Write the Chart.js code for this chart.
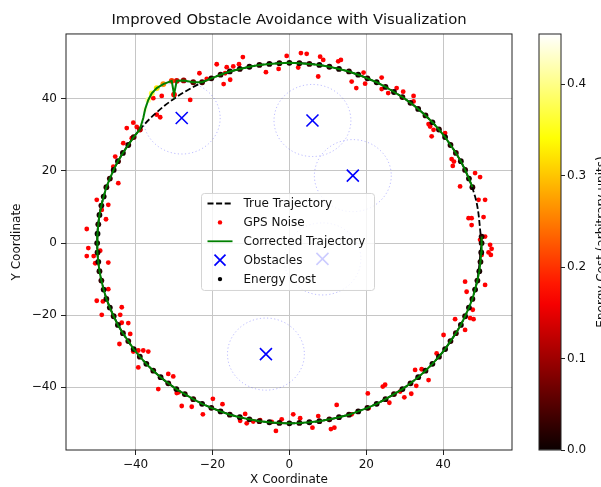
<!DOCTYPE html>
<html>
<head>
<meta charset="utf-8">
<script src="https://cdn.jsdelivr.net/npm/chart.js@4"></script>
<style>
  html, body { margin: 0; padding: 0; background: #fff; }
  #wrap { position: relative; width: 601px; height: 487px; overflow: hidden; background: #fff; }
  #wrap canvas { position: absolute; top: 0; }
</style>
</head>
<body>
<div id="wrap">
  <canvas id="main" width="601" height="487" style="left:0"></canvas>
  <canvas id="cbar" width="71" height="487" style="left:530px"></canvas>
</div>
<script>
// ---- data ----
const xTicks = [-40, -20, 0, 20, 40];
const yTicks = [-40, -20, 0, 20, 40];
const cbarTicks = [0, 0.1, 0.2, 0.3, 0.4];

// true trajectory (circle of radius 50)
const truthX = [50.0, 48.3, 43.3, 35.4, 25.0, 12.9, 0.0, -12.9, -25.0, -35.4, -43.3, -48.3, -50.0,
  -48.3, -43.3, -35.4, -25.0, -12.9, 0.0, 12.9, 25.0, 35.4, 43.3, 48.3, 50.0];
const truthY = [0.0, 12.9, 25.0, 35.4, 43.3, 48.3, 50.0, 48.3, 43.3, 35.4, 25.0, 12.9, 0.0,
  -12.9, -25.0, -35.4, -43.3, -48.3, -50.0, -48.3, -43.3, -35.4, -25.0, -12.9, 0.0];

// noisy GPS fixes
const gpsX = [3.0, 4.5, -0.7, -2.8, 2.3, -6.1, -12.1, -13.1, -18.9, -16.3, -14.6, -16.7, -15.4, -17.1, -23.4, -21.5, -25.8, -33.2, -35.4, -34.5,
  -33.6, -40.6, -42.3, -39.7, -41.0, -38.8, -43.2, -45.3, -44.5, -45.8, -44.5, -50.1, -47.1, -48.8, -47.7, -52.7,
  -52.3, -52.7, -50.9, -50.5, -49.2, -47.1, -47.1, -50.1, -48.5, -48.8, -43.6, -44.0, -43.6, -41.9, -41.4, -44.2, -40.6, -39.3, -38.0, -36.7,
  -39.3, -34.1, -31.5, -30.2, -29.3, -28.8, -28.0, -25.4, -22.5, -19.9, -17.4, -12.8, -11.5, -11.1, -9.4, -7.6, -4.6, -3.5, -2.0, 1.0, 2.8, 6.0,
  7.5, 10.8, 11.7, 12.3, 16.2, 20.4, 20.6, 24.3, 24.9, 26.0, 28.8, 29.9, 31.7, 33.0, 36.2, 32.7, 34.4, 38.3, 40.1, 43.1, 45.7, 47.0, 47.9, 47.7, 46.1, 45.7, 50.9,
  49.6, 50.9, 52.2, 52.6, 51.8, 52.4, 50.0, 46.6, 47.4, 47.4, 50.5, 49.2, 50.9, 44.4, 48.3, 49.6, 42.2, 42.8, 42.5, 37.0, 40.5, 36.2, 36.6, 37.5,
  8.0, 8.8, 7.5, 12.7, 13.4, 16.2, 17.4, 19.3, 19.7, 24.0, 24.0, 27.9, 29.6, 25.7, 32.3, 32.3];
const gpsY = [52.7, 52.5, 51.9, 48.3, 48.7, 47.4, 51.6, 49.6, 49.6, 48.8, 49.0, 47.1, 45.3, 44.1, 47.1, 45.5, 39.7, 40.8, 40.2, 35.6,
  34.9, 33.4, 31.9, 32.2, 29.1, 31.4, 27.7, 24.0, 22.6, 21.2, 16.6, 12.0, 10.6, 9.2, 6.6, 3.9,
  -1.4, -3.6, -3.6, -5.6, -2.1, -5.4, -12.8, -16.0, -16.2, -19.9, -17.8, -19.9, -22.1, -22.2, -25.2, -28.0, -30.1, -29.8, -29.8, -30.1,
  -34.5, -40.5, -36.3, -37.0, -41.6, -41.4, -45.2, -45.4, -47.5, -43.2, -44.7, -49.3, -47.4, -50.0, -49.5, -49.1, -49.6, -52.1, -48.9, -47.5, -48.6, -51.2,
  -48.0, -51.6, -51.2, -44.9, -47.5, -41.7, -45.8, -39.8, -39.3, -44.3, -41.2, -42.8, -41.8, -39.6, -38.0, -35.2, -35.0, -30.6, -25.5, -21.1, -24.1, -20.8, -21.1, -18.5, -13.5, -10.7, -11.6,
  0.9, 1.8, -0.5, -1.6, -2.6, -3.3, -3.3, 6.9, 6.9, 5.0, 7.2, 12.0, 12.0, 15.7, 19.4, 18.3, 23.3, 22.6, 21.4, 29.6, 30.5, 33.0, 32.3, 31.4,
  51.7, 50.8, 46.2, 50.4, 50.8, 44.8, 43.0, 47.3, 44.2, 45.9, 42.7, 43.0, 42.0, 41.6, 40.8, 39.3];

// corrected trajectory (with the detour round the top-left obstacle)
const pathX = [47.6, 46.7, 45.7, 44.6, 43.3, 41.9, 40.5, 38.9, 37.2, 35.4,
  33.5, 31.5, 29.4, 27.2, 25.0, 22.7, 20.3, 17.9, 15.5, 12.9,
  10.4, 7.8, 5.2, 2.6, 0.0, -2.6, -5.2, -7.8, -10.4, -12.9,
  -15.5, -17.9, -20.3, -22.7,
  -25.0, -27.5, -29.3, -30.0, -30.6, -32.8, -34.5, -35.8, -36.7, -37.5, -38.0,
  -38.9, -40.5, -41.9, -43.3, -44.6, -45.7, -46.7, -47.6, -48.3, -48.9,
  -49.4, -49.7, -49.9, -50.0, -49.9, -49.7, -49.4, -48.9, -48.3, -47.6,
  -46.7, -45.7, -44.6, -43.3, -41.9, -40.5, -38.9, -37.2, -35.4, -33.5,
  -31.5, -29.4, -27.2, -25.0, -22.7, -20.3, -17.9, -15.5, -12.9, -10.4,
  -7.8, -5.2, -2.6, 0.0, 2.6, 5.2, 7.8, 10.4, 12.9, 15.5,
  17.9, 20.3, 22.7, 25.0, 27.2, 29.4, 31.5, 33.5, 35.4, 37.2,
  38.9, 40.5, 41.9, 43.3, 44.6, 45.7, 46.7, 47.6, 48.3, 48.9,
  49.4, 49.7, 49.9, 50.0, 50.0];
const pathY = [15.5, 17.9, 20.3, 22.7, 25.0, 27.2, 29.4, 31.5, 33.5, 35.4,
  37.2, 38.9, 40.5, 41.9, 43.3, 44.6, 45.7, 46.7, 47.6, 48.3,
  48.9, 49.4, 49.7, 49.9, 50.0, 49.9, 49.7, 49.4, 48.9, 48.3,
  47.6, 46.7, 45.7, 44.6,
  44.6, 45.1, 45.0, 41.2, 45.0, 44.1, 43.0, 41.5, 39.7, 37.2, 34.7,
  31.5, 29.4, 27.2, 25.0, 22.7, 20.3, 17.9, 15.5, 12.9, 10.4,
  7.8, 5.2, 2.6, 0.0, -2.6, -5.2, -7.8, -10.4, -12.9, -15.5,
  -17.9, -20.3, -22.7, -25.0, -27.2, -29.4, -31.5, -33.5, -35.4, -37.2,
  -38.9, -40.5, -41.9, -43.3, -44.6, -45.7, -46.7, -47.6, -48.3, -48.9,
  -49.4, -49.7, -49.9, -50.0, -49.9, -49.7, -49.4, -48.9, -48.3, -47.6,
  -46.7, -45.7, -44.6, -43.3, -41.9, -40.5, -38.9, -37.2, -35.4, -33.5,
  -31.5, -29.4, -27.2, -25.0, -22.7, -20.3, -17.9, -15.5, -12.9, -10.4,
  -7.8, -5.2, -2.6, 0.0, 1.8];

// energy cost at each corrected point
const energyCost = [0.02, 0.01, 0.02, 0.01, 0.03, 0.02, 0.01, 0.02, 0.01, 0.02,
  0.01, 0.02, 0.03, 0.01, 0.02, 0.01, 0.02, 0.01, 0.02, 0.01,
  0.02, 0.01, 0.03, 0.02, 0.01, 0.02, 0.01, 0.02, 0.01, 0.02,
  0.01, 0.03, 0.02, 0.04,
  0.06, 0.10, 0.14, 0.17, 0.20, 0.26, 0.32, 0.37, 0.41, 0.44, 0.455,
  0.12, 0.05, 0.02, 0.01, 0.02, 0.01, 0.03, 0.02, 0.01, 0.02,
  0.01, 0.02, 0.00, 0.01, 0.02, 0.01, 0.02, 0.03, 0.01, 0.02,
  0.01, 0.02, 0.01, 0.02, 0.03, 0.01, 0.02, 0.01, 0.02, 0.01,
  0.02, 0.01, 0.02, 0.03, 0.01, 0.02, 0.01, 0.02, 0.01, 0.02,
  0.03, 0.01, 0.02, 0.01, 0.02, 0.01, 0.02, 0.03, 0.01, 0.02,
  0.01, 0.02, 0.01, 0.02, 0.03, 0.01, 0.02, 0.01, 0.02, 0.01,
  0.02, 0.01, 0.02, 0.03, 0.01, 0.02, 0.01, 0.02, 0.01, 0.02,
  0.01, 0.02, 0.01, 0.02, 0.02];
const costMax = 0.455;

// obstacles and their safety radius
const obsX = [-28.0, 6.0, 16.5, 8.6, -6.1];
const obsY = [34.7, 34.0, 18.7, -4.4, -30.8];
const obsRadius = 10;

// ---- helpers ----
const FONT = '"DejaVu Sans", sans-serif';
const pts = (xs, ys) => xs.map((x, i) => ({ x: x, y: ys[i] }));
const fmtTick = v => (v < 0 ? '\u2212' + Math.abs(v) : String(v));

// matplotlib 'hot' colour map
function hotColor(t) {
    const r = Math.min(1, 0.0416 + (t / 0.365) * 0.9584);
    const g = Math.min(1, Math.max(0, (t - 0.365) / 0.381));
    const b = Math.min(1, Math.max(0, (t - 0.746) / 0.254));
    return `rgb(${Math.round(r * 255)},${Math.round(g * 255)},${Math.round(b * 255)})`;
}

// dotted safety circles round the obstacles
const obstacleRings = {
    id: 'obstacleRings',
    beforeDatasetsDraw(chart) {
        const { ctx, chartArea: a, scales: { x, y } } = chart;
        ctx.save();
        ctx.beginPath();
        ctx.rect(a.left, a.top, a.right - a.left, a.bottom - a.top);
        ctx.clip();
        ctx.strokeStyle = 'rgba(60,60,255,0.35)';
        ctx.lineWidth = 1;
        ctx.setLineDash([1.2, 2.4]);
        obsX.forEach((ox, i) => {
            const cx = x.getPixelForValue(ox);
            const cy = y.getPixelForValue(obsY[i]);
            const rx = x.getPixelForValue(ox + obsRadius) - cx;
            const ry = cy - y.getPixelForValue(obsY[i] + obsRadius);
            ctx.beginPath();
            ctx.ellipse(cx, cy, rx, ry, 0, 0, Math.PI * 2);
            ctx.stroke();
        });
        ctx.restore();
    }
};

// axes frame + legend in the middle of the plot
const frameAndLegend = {
    id: 'frameAndLegend',
    afterDraw(chart) {
        const { ctx, chartArea: a } = chart;
        ctx.save();
        ctx.strokeStyle = '#222';
        ctx.lineWidth = 1;
        ctx.strokeRect(a.left, a.top, a.right - a.left, a.bottom - a.top);

        const w = 173, h = 97;
        const left = (a.left + a.right) / 2 - w / 2 - 1;
        const top = (a.top + a.bottom) / 2 - h / 2;
        ctx.beginPath();
        ctx.roundRect(left, top, w, h, 3);
        ctx.fillStyle = 'rgba(255,255,255,0.8)';
        ctx.fill();
        ctx.strokeStyle = '#d4d4d4';
        ctx.stroke();

        ctx.font = '12px ' + FONT;
        ctx.textBaseline = 'middle';
        chart.data.datasets.forEach((ds, i) => {
            const yy = top + 10 + i * 18.9;
            const x0 = left + 6, x1 = left + 31, mx = left + 18.5;
            ctx.setLineDash([]);
            if (ds.legendMark === 'dash' || ds.legendMark === 'line') {
                ctx.strokeStyle = ds.borderColor;
                ctx.lineWidth = 1.8;
                ctx.setLineDash(ds.legendMark === 'dash' ? [6, 2.6] : []);
                ctx.beginPath();
                ctx.moveTo(x0, yy);
                ctx.lineTo(x1, yy);
                ctx.stroke();
            } else if (ds.legendMark === 'x') {
                ctx.strokeStyle = ds.borderColor;
                ctx.lineWidth = 1.7;
                ctx.beginPath();
                ctx.moveTo(mx - 5.5, yy - 5.5); ctx.lineTo(mx + 5.5, yy + 5.5);
                ctx.moveTo(mx - 5.5, yy + 5.5); ctx.lineTo(mx + 5.5, yy - 5.5);
                ctx.stroke();
            } else {
                ctx.fillStyle = ds.legendColor;
                ctx.beginPath();
                ctx.arc(mx, yy, 2.2, 0, Math.PI * 2);
                ctx.fill();
            }
            ctx.fillStyle = '#111';
            ctx.fillText(ds.label, left + 42, yy + 0.5);
        });
        ctx.restore();
    }
};

const axisFont = { family: FONT, size: 12 };
const gridOpts = { color: '#c6c6c6', lineWidth: 1, tickLength: 5, tickColor: '#222', tickWidth: 1 };

// ---- main plot ----
const mainChart = new Chart(document.getElementById('main'), {
    type: 'scatter',
    data: {
        datasets: [
            { label: 'True Trajectory', legendMark: 'dash', data: pts(truthX, truthY), showLine: true,
              borderColor: '#000', borderWidth: 1.8, borderDash: [6, 2.6], tension: 0.34,
              pointRadius: 0, fill: false, order: 1 },
            { label: 'GPS Noise', legendMark: 'dot', legendColor: '#ff0000', data: pts(gpsX, gpsY),
              backgroundColor: '#ff0000', borderWidth: 0, pointRadius: 2.4, order: 4 },
            { label: 'Corrected Trajectory', legendMark: 'line', data: pts(pathX, pathY), showLine: true,
              borderColor: '#008000', borderWidth: 2, tension: 0, pointRadius: 0, fill: false, order: 0 },
            { label: 'Obstacles', legendMark: 'x', data: pts(obsX, obsY), pointStyle: 'crossRot',
              borderColor: '#0000ff', borderWidth: 1.6, pointRadius: 8.5, order: 3 },
            { label: 'Energy Cost', legendMark: 'dot', legendColor: '#000', data: pts(pathX, pathY),
              backgroundColor: energyCost.map(v => hotColor(v / costMax)), borderWidth: 0,
              pointRadius: 2.9, order: 2 }
        ]
    },
    options: {
        responsive: false,
        animation: false,
        events: [],
        layout: { padding: { left: 0, right: 89, top: 0, bottom: 0 } },
        plugins: {
            legend: { display: false },
            tooltip: { enabled: false },
            title: {
                display: true, fullSize: false,
                text: 'Improved Obstacle Avoidance with Visualization',
                color: '#111',
                font: { family: FONT, size: 14.8, weight: 'normal' },
                padding: { top: 11, bottom: 5.2 }
            }
        },
        scales: {
            x: {
                type: 'linear', min: -58.1, max: 57.9,
                afterBuildTicks: s => { s.ticks = xTicks.map(v => ({ value: v })); },
                afterFit: s => { s.height = 37; },
                border: { display: false },
                grid: gridOpts,
                ticks: { font: axisFont, color: '#111', padding: 3, maxRotation: 0, callback: fmtTick },
                title: { display: true, text: 'X Coordinate', color: '#111', font: axisFont, padding: { top: 0, bottom: 0 } }
            },
            y: {
                type: 'linear', min: -57.4, max: 58.0,
                afterBuildTicks: s => { s.ticks = yTicks.map(v => ({ value: v })); },
                afterFit: s => { s.width = 66; },
                border: { display: false },
                grid: gridOpts,
                ticks: { font: axisFont, color: '#111', padding: 4, callback: fmtTick },
                title: { display: true, text: 'Y Coordinate', color: '#111', font: axisFont, padding: { top: 10, bottom: 0 } }
            }
        }
    },
    plugins: [obstacleRings, frameAndLegend]
});

// ---- colour bar ----
const cbarLabel = {
    id: 'cbarLabel',
    afterDraw(chart) {
        const { ctx, chartArea: a } = chart;
        ctx.save();
        ctx.strokeStyle = '#222';
        ctx.lineWidth = 1;
        ctx.strokeRect(a.left, a.top, a.right - a.left, a.bottom - a.top);
        ctx.translate(75, (a.top + a.bottom) / 2);
        ctx.rotate(-Math.PI / 2);
        ctx.font = '12px ' + FONT;
        ctx.fillStyle = '#111';
        ctx.textAlign = 'center';
        ctx.textBaseline = 'alphabetic';
        ctx.fillText('Energy Cost (arbitrary units)', 0, 0);
        ctx.restore();
    }
};

const cbarChart = new Chart(document.getElementById('cbar'), {
    type: 'bar',
    data: {
        labels: ['cost'],
        datasets: [{
            data: [costMax],
            barPercentage: 1,
            categoryPercentage: 1,
            borderWidth: 0,
            backgroundColor: c => {
                const a = c.chart.chartArea;
                if (!a) return '#000';
                const g = c.chart.ctx.createLinearGradient(0, a.bottom, 0, a.top);
                for (let i = 0; i <= 20; i++) g.addColorStop(i / 20, hotColor(i / 20));
                return g;
            }
        }]
    },
    options: {
        responsive: false,
        animation: false,
        events: [],
        layout: { padding: { left: 9, right: 0, top: 34, bottom: 37 } },
        plugins: { legend: { display: false }, tooltip: { enabled: false } },
        scales: {
            x: { display: false },
            y: {
                position: 'right', min: 0, max: costMax,
                afterBuildTicks: s => { s.ticks = cbarTicks.map(v => ({ value: v })); },
                afterFit: s => { s.width = 40; },
                border: { display: false },
                grid: { drawOnChartArea: false, tickLength: 4, tickColor: '#222', tickWidth: 1 },
                ticks: { font: axisFont, color: '#111', padding: 2, callback: v => v.toFixed(1) }
            }
        }
    },
    plugins: [cbarLabel]
});
</script>
</body>
</html>
